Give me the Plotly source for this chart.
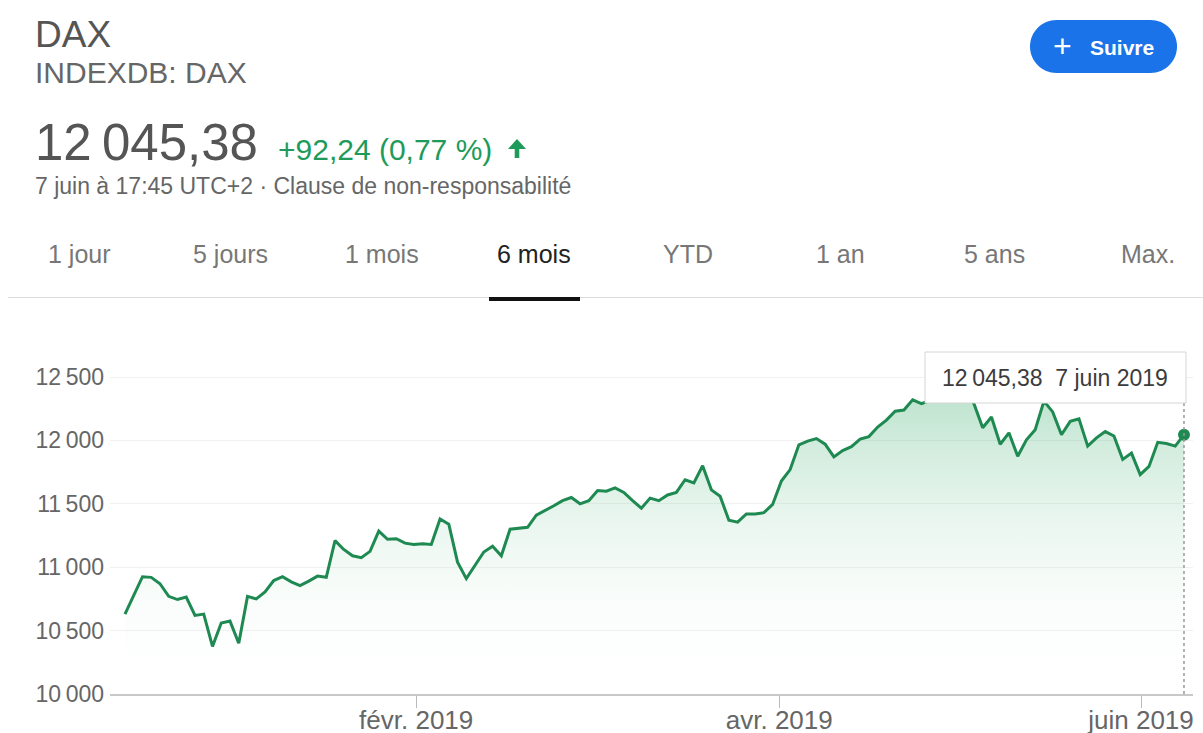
import numpy as np
import pandas as pd
import plotly.graph_objects as go

# trading days shown on the 6 month view (Xetra)
dates = [
    "2018-12-10", "2018-12-11", "2018-12-12", "2018-12-13", "2018-12-14", "2018-12-17",
    "2018-12-18", "2018-12-19", "2018-12-20", "2018-12-21", "2018-12-27", "2018-12-28",
    "2019-01-02", "2019-01-03", "2019-01-04", "2019-01-07", "2019-01-08", "2019-01-09",
    "2019-01-10", "2019-01-11", "2019-01-14", "2019-01-15", "2019-01-16", "2019-01-17",
    "2019-01-18", "2019-01-21", "2019-01-22", "2019-01-23", "2019-01-24", "2019-01-25",
    "2019-01-28", "2019-01-29", "2019-01-30", "2019-01-31",
    "2019-02-01", "2019-02-04", "2019-02-05", "2019-02-06", "2019-02-07", "2019-02-08",
    "2019-02-11", "2019-02-12", "2019-02-13", "2019-02-14", "2019-02-15", "2019-02-18",
    "2019-02-19", "2019-02-20", "2019-02-21", "2019-02-22", "2019-02-25", "2019-02-26",
    "2019-02-27", "2019-02-28",
    "2019-03-01", "2019-03-04", "2019-03-05", "2019-03-06", "2019-03-07", "2019-03-08",
    "2019-03-11", "2019-03-12", "2019-03-13", "2019-03-14", "2019-03-15", "2019-03-18",
    "2019-03-19", "2019-03-20", "2019-03-21", "2019-03-22", "2019-03-25", "2019-03-26",
    "2019-03-27", "2019-03-28", "2019-03-29",
    "2019-04-01", "2019-04-02", "2019-04-03", "2019-04-04", "2019-04-05", "2019-04-08",
    "2019-04-09", "2019-04-10", "2019-04-11", "2019-04-12", "2019-04-15", "2019-04-16",
    "2019-04-17", "2019-04-18", "2019-04-23", "2019-04-24", "2019-04-25", "2019-04-26",
    "2019-04-29", "2019-04-30",
    "2019-05-02", "2019-05-03", "2019-05-06", "2019-05-07", "2019-05-08", "2019-05-09",
    "2019-05-10", "2019-05-13", "2019-05-14", "2019-05-15", "2019-05-16", "2019-05-17",
    "2019-05-20", "2019-05-21", "2019-05-22", "2019-05-23", "2019-05-24", "2019-05-27",
    "2019-05-28", "2019-05-29", "2019-05-30", "2019-05-31",
    "2019-06-03", "2019-06-04", "2019-06-05", "2019-06-06", "2019-06-07",
]

closes = [
    10630, 10780, 10925, 10920, 10870, 10770, 10745, 10765, 10620, 10630, 10375, 10560,
    10575, 10400, 10770, 10750, 10805, 10895, 10925, 10885, 10855, 10890, 10930, 10920,
    11210, 11140, 11090, 11075, 11125, 11285, 11220, 11225, 11190, 11180,
    11185, 11180, 11380, 11340, 11040, 10910, 11020, 11120, 11165, 11090, 11300, 11305,
    11315, 11410, 11445, 11485, 11525, 11550, 11500, 11525,
    11605, 11600, 11625, 11590, 11525, 11465, 11545, 11525, 11570, 11590, 11690, 11665,
    11800, 11610, 11560, 11370, 11355, 11420, 11420, 11430, 11495,
    11680, 11770, 11965, 11995, 12015, 11970, 11870, 11920, 11950, 12010, 12030, 12105,
    12160, 12230, 12240, 12320, 12290, 12315, 12330, 12345,
    12350, 12410, 12290, 12100, 12185, 11970, 12060, 11875, 12005, 12085, 12310, 12225,
    12045, 12150, 12170, 11955, 12020, 12070, 12035, 11850, 11900, 11730,
    11795, 11985, 11975, 11955, 12045.38,
]

month_starts = ["2019-02-01", "2019-04-01", "2019-06-01"]
month_labels = ["févr. 2019", "avr. 2019", "juin 2019"]
y_ticks = [10000, 10500, 11000, 11500, 12000, 12500]
tabs = ["1 jour", "5 jours", "1 mois", "6 mois", "YTD", "1 an", "5 ans", "Max."]
tab_x = [79, 230, 382, 534, 688, 840, 994, 1148]

GREEN = "#1e8a52"
UP = "#1e9b5a"
FONT = "Liberation Sans, Arial, sans-serif"
W, H = 1203, 733
L, R, T, B = 110, 10, 358, 39


def fr(v, dec=0):
    s = f"{v:,.{dec}f}"
    return s.replace(",", "\u2009").replace(".", ",")


# pixel -> paper helpers for the page furniture around the chart
def fx(x):
    return (x - L) / (W - L - R)


def fy(y):
    return (H - B - y) / (H - T - B)


def poly(pts, closed=True):
    # one command letter per segment, plotly does not repeat implicit ones
    out = ""
    for cmd, p in pts:
        out += cmd + " ".join(f"{fx(a):.5f},{fy(b):.5f}" for a, b in p) + " "
    return out + ("Z" if closed else "")


idx = np.arange(len(closes))
# closes are at 17:30, month starts land in between trading points
ts = pd.to_datetime(dates) + pd.Timedelta(hours=17, minutes=30)
tick_pos = np.interp(pd.to_datetime(month_starts).astype("int64"), ts.astype("int64"), idx)

fig = go.Figure()
fig.add_trace(go.Scatter(
    x=idx, y=closes, mode="lines",
    line=dict(color=GREEN, width=3),
    fill="tozeroy",
    fillgradient=dict(
        type="vertical",
        colorscale=[[0, "rgba(255,255,255,0)"], [1, "rgba(40,165,95,0.32)"]],
        start=y_ticks[0], stop=max(closes),
    ),
    hoverinfo="skip",
))
fig.add_trace(go.Scatter(
    x=[idx[-1]], y=[closes[-1]], mode="markers",
    marker=dict(color=GREEN, size=12),
    hoverinfo="skip",
))

shapes = []


def rounded(x0, y0, x1, y1):
    r = (y1 - y0) / 2
    k = 0.5523 * r
    ym = (y0 + y1) / 2
    return poly([
        ("M", [(x0 + r, y0)]),
        ("L", [(x1 - r, y0)]),
        ("C", [(x1 - r + k, y0), (x1, ym - k), (x1, ym)]),
        ("C", [(x1, ym + k), (x1 - r + k, y1), (x1 - r, y1)]),
        ("L", [(x0 + r, y1)]),
        ("C", [(x0 + r - k, y1), (x0, ym + k), (x0, ym)]),
        ("C", [(x0, ym - k), (x0 + r - k, y0), (x0 + r, y0)]),
    ])


# follow button
shapes.append(dict(type="path", xref="paper", yref="paper", path=rounded(1030, 20, 1177, 73),
                   fillcolor="#1a73e8", line=dict(width=0), layer="above"))
# up arrow next to the change
arrow = [(508, 149), (517, 139), (526, 149), (519.3, 149), (519.3, 158), (514.7, 158), (514.7, 149)]
shapes.append(dict(type="path", xref="paper", yref="paper", layer="above",
                   path=poly([("M", [arrow[0]])] + [("L", [p]) for p in arrow[1:]]),
                   fillcolor=UP, line=dict(width=0)))
# tab separator + active underline
shapes.append(dict(type="line", xref="paper", yref="paper", x0=fx(8), x1=fx(1203),
                   y0=fy(297.5), y1=fy(297.5), line=dict(color="#dadce0", width=1)))
shapes.append(dict(type="rect", xref="paper", yref="paper", x0=fx(489), x1=fx(580),
                   y0=fy(301), y1=fy(297), fillcolor="#111", line=dict(width=0)))
# tooltip box and crosshair
shapes.append(dict(type="line", xref="x", yref="paper", x0=idx[-1], x1=idx[-1],
                   y0=0, y1=fy(403), line=dict(color="#999", width=1.5, dash="dot"),
                   layer="above"))
shapes.append(dict(type="rect", xref="paper", yref="paper", x0=fx(925), x1=fx(1186),
                   y0=fy(403), y1=fy(352), fillcolor="white",
                   line=dict(color="#d6d6d6", width=1), layer="above"))

ann = []


def text(x, y, s, size, color, anchor="left", bold=False):
    ann.append(dict(x=fx(x), y=fy(y), xref="paper", yref="paper", text=f"<b>{s}</b>" if bold else s,
                    showarrow=False, xanchor=anchor, yanchor="middle",
                    font=dict(family=FONT, size=size, color=color)))


text(33, 34, "DAX", 37, "#555")
text(33, 73, "INDEXDB: DAX", 30, "#666")
text(33, 142, fr(closes[-1], 2), 51, "#555")
text(276, 149, "+92,24 (0,77 %)", 30, UP)
text(33, 186, "7 juin à 17:45 UTC+2 · Clause de non-responsabilité", 23, "#666")
for t, x in zip(tabs, tab_x):
    text(x, 254, t, 25, "#222" if t == "6 mois" else "#777", anchor="center")
text(1062, 46, "+", 32, "white", anchor="center")
text(1088, 47, "Suivre", 21, "white", bold=True)
text(1055, 378, f"{fr(closes[-1], 2)}  7 juin 2019", 23, "#3c3c3c", anchor="center")

fig.update_layout(
    width=W, height=H,
    margin=dict(l=L, r=R, t=T, b=B),
    paper_bgcolor="white", plot_bgcolor="white",
    showlegend=False,
    shapes=shapes,
    annotations=ann,
    font=dict(family=FONT),
    xaxis=dict(
        range=[-1.71, 122.03], showgrid=False, zeroline=False,
        showline=True, linecolor="#c8c8c8", linewidth=2,
        ticks="outside", ticklen=12, tickcolor="#bbb", tickwidth=1,
        tickvals=tick_pos, ticktext=month_labels, ticklabelstandoff=-10,
        tickfont=dict(size=26, color="#666"), automargin=False,
    ),
    yaxis=dict(
        range=[10000, 12650], showgrid=True, gridcolor="#f1f1f1", gridwidth=1,
        zeroline=False, showline=False,
        tickvals=y_ticks, ticktext=[fr(v) for v in y_ticks],
        tickfont=dict(size=23, color="#666"), ticklabelstandoff=5, automargin=False,
    ),
)

# page default body margin would push the fixed-size figure off the window
fig.write_html("out.html", config={"displayModeBar": False},
               post_script="document.body.style.margin='0';")
